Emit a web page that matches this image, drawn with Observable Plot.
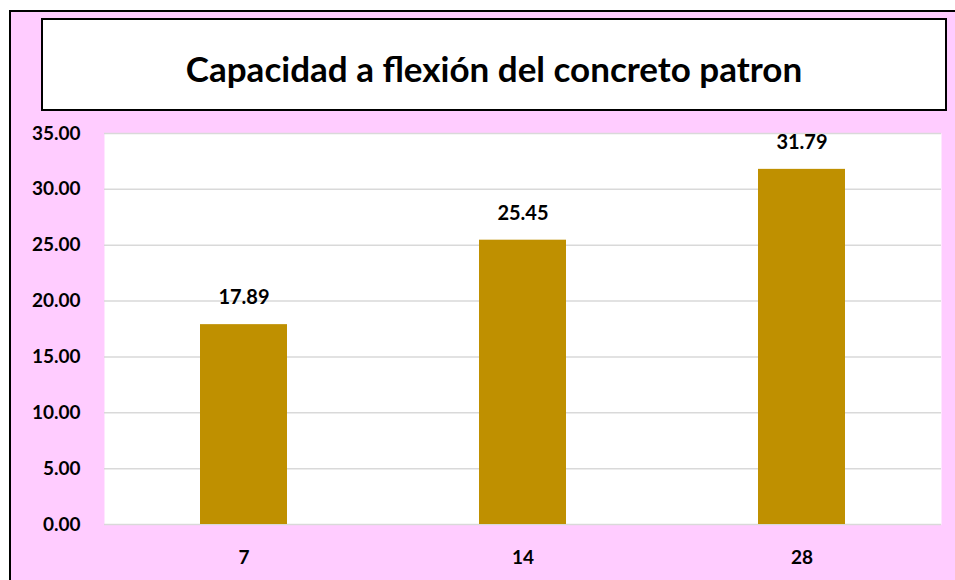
<!DOCTYPE html>
<html>
<head>
<meta charset="utf-8">
<script src="https://cdn.jsdelivr.net/npm/d3@7"></script>
<script src="https://cdn.jsdelivr.net/npm/@observablehq/plot@0.6"></script>
<style>
  html, body { margin: 0; padding: 0; background: #ffffff; width: 955px; height: 580px; overflow: hidden; }
  #outer { position: absolute; left: 9px; top: 10px; width: 960px; height: 600px; background: #FFCCFF; border: 2px solid #000; box-sizing: border-box; }
  #title { position: absolute; left: 41px; top: 18px; width: 906px; height: 93px; background: #fff; border: 2px solid #000; box-sizing: border-box; padding-top: 6px;
           display: flex; align-items: center; justify-content: center; font-family: Lato, "Liberation Sans", sans-serif; font-weight: 700; font-size: 35px; color: #000; }
  #chart { position: absolute; left: 0; top: 115px; }
</style>
</head>
<body>
<div id="outer"></div>
<div id="title">Capacidad a flexión del concreto patron</div>
<div id="chart"></div>
<script>
const dias = ["7", "14", "28"];
const capacidad = [17.89, 25.45, 31.79];
const yTicks = [0, 5, 10, 15, 20, 25, 30, 35];

const data = dias.map((d, i) => ({dia: d, valor: capacidad[i]}));

const chart = Plot.plot({
  width: 955,
  height: 465,
  marginLeft: 104,
  marginRight: 14,
  marginTop: 18,
  marginBottom: 56,
  style: {background: "transparent", fontFamily: "Lato, 'Liberation Sans', sans-serif", fontWeight: "700", fontSize: "18px", color: "#000"},
  x: {domain: dias, padding: 0, label: null},
  y: {domain: [0, 35], label: null},
  marks: [
    Plot.frame({fill: "white", stroke: null}),
    Plot.gridY(yTicks, {stroke: "#D9D9D9", strokeOpacity: 1, strokeWidth: 1.5}),
    Plot.barY(data, {x: "dia", y: "valor", fill: "#BF9000", insetLeft: 96, insetRight: 96}),
    Plot.text(data, {x: "dia", y: "valor", text: d => d.valor.toFixed(2), dy: -27, fontSize: 20, fontWeight: 700, fill: "#000"}),
    Plot.axisY(yTicks, {tickSize: 0, tickPadding: 24, tickFormat: d => d.toFixed(2), fontSize: 19, fontWeight: 700}),
    Plot.axisX({tickSize: 0, tickPadding: 26, fontSize: 19, fontWeight: 700})
  ]
});
document.getElementById("chart").appendChild(chart);
</script>
</body>
</html>
